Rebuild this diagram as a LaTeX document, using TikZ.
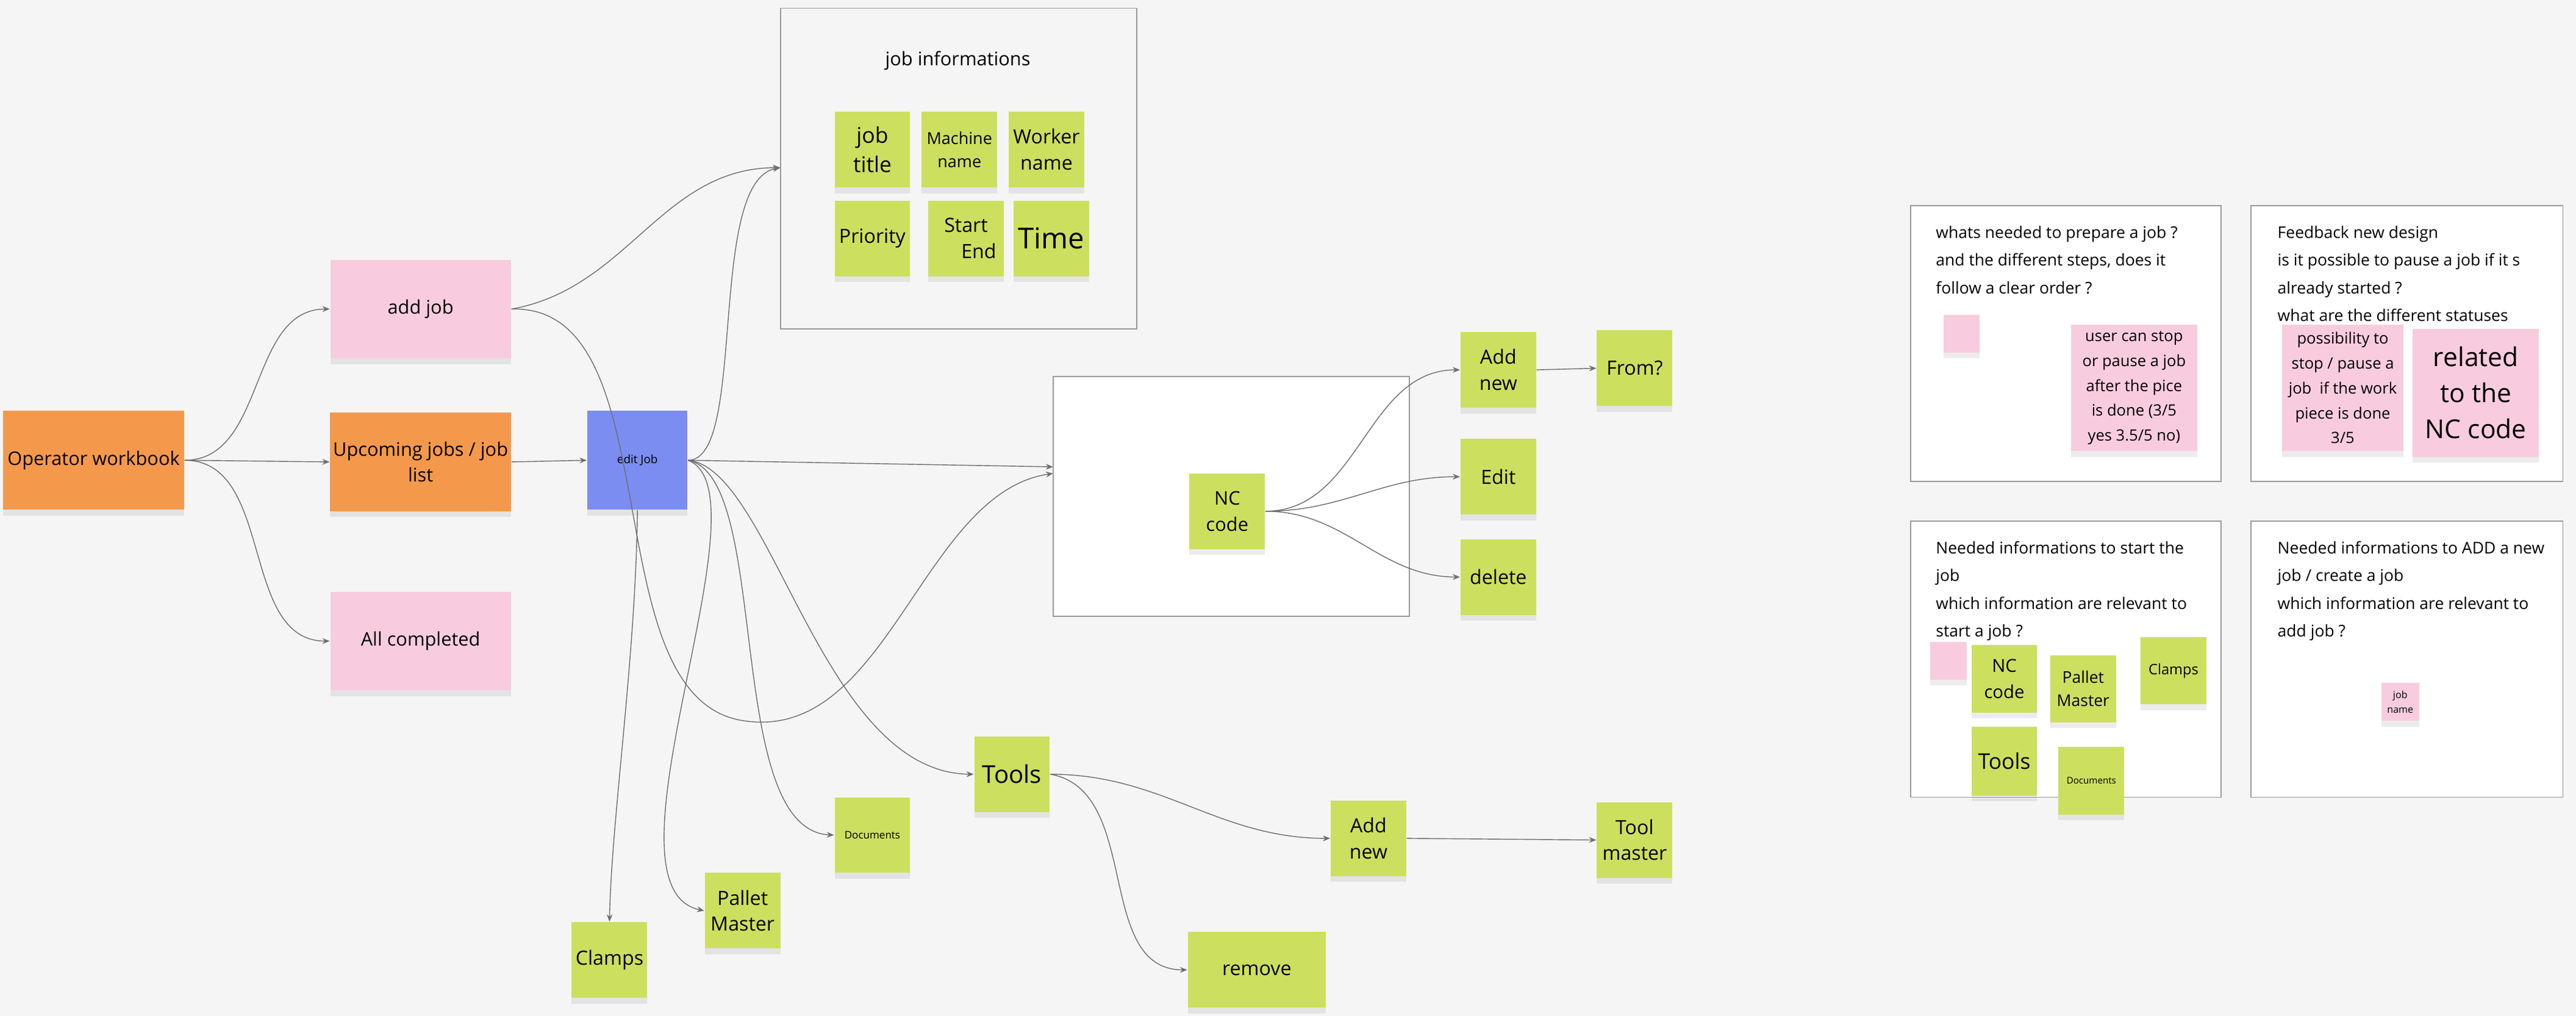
\documentclass[tikz,border=0pt]{standalone}
\usepackage{fontspec}
\setmainfont{Open Sans}
\usetikzlibrary{arrows.meta,shadows}
\definecolor{bggray}{HTML}{F5F5F5}
\definecolor{orangenote}{HTML}{F4994B}
\definecolor{pinknote}{HTML}{F8CCDE}
\definecolor{greennote}{HTML}{CDDF5E}
\definecolor{bluenote}{HTML}{7B8DF0}
\definecolor{linegray}{HTML}{6E6E6E}
\tikzset{
  note/.style={inner sep=1pt, align=center, text=black,
    drop shadow={opacity=0.15, shadow xshift=0pt, shadow yshift=-2pt}},
  bignote/.style={note, minimum width=2.2cm, minimum height=1.2cm, font=\fontsize{6.5}{9}\selectfont},
  green/.style={note, fill=greennote, minimum width=0.92cm, minimum height=0.92cm},
  frame/.style={draw=gray!80, line width=0.4pt},
  panel/.style={frame, fill=white},
  link/.style={draw=linegray, line width=0.3pt, -{Stealth[length=2.5pt,width=2pt]}},
  ptext/.style={anchor=north west, align=left, inner sep=0pt, font=\fontsize{5.6}{9.6}\selectfont}
}
\begin{document}
\begin{tikzpicture}[x=0.02cm,y=-0.02cm]
\fill[bggray] (0,0) rectangle (1568,618);
\useasboundingbox (0,0) rectangle (1568,618);
% frames
\draw[frame] (475,5) rectangle (692,200);
\node[font=\fontsize{6.5}{8}\selectfont] (infotitle) at (583,37) {job informations};
\coordinate (infoin) at (475,102);
\draw[panel] (641,229) rectangle (858,375);
\coordinate (ncin) at (641,288);
\coordinate (ncin2) at (641,284);
% main flow
\node[bignote, fill=orangenote] (workbook) at (57,280) {Operator workbook};
\node[bignote, fill=pinknote] (addjob) at (256,188) {add job};
\node[bignote, fill=orangenote] (upcoming) at (256,281) {Upcoming jobs / job\\list};
\node[bignote, fill=pinknote] (completed) at (256,390) {All completed};
\node[note, fill=bluenote, minimum width=1.22cm, minimum height=1.2cm, font=\fontsize{4}{5}\selectfont] (editjob) at (388,280) {edit Job};
% job informations
\node[green, font=\fontsize{7.5}{10}\selectfont] (jobtitle) at (531,91) {job\\title};
\node[green, font=\fontsize{5.7}{8}\selectfont] (machine) at (584,91) {Machine\\name};
\node[green, font=\fontsize{6.8}{9}\selectfont] (worker) at (637,91) {Worker\\name};
\node[green, font=\fontsize{6.8}{9}\selectfont] (priority) at (531,145) {Priority};
\node[green, font=\fontsize{6.8}{9}\selectfont] (startend) at (588,145) {Start\\\hspace*{1.3em}End};
\node[green, font=\fontsize{10}{12}\selectfont] (time) at (640,145) {Time};
% NC code
\node[green, font=\fontsize{6.5}{9}\selectfont] (nccode) at (747,311) {NC\\code};
\node[green, font=\fontsize{6.8}{9}\selectfont] (addnc) at (912,225) {Add\\new};
\node[green, font=\fontsize{6.8}{9}\selectfont] (from) at (995,224) {From?};
\node[green, font=\fontsize{6.8}{9}\selectfont] (edit) at (912,290) {Edit};
\node[green, font=\fontsize{6.8}{9}\selectfont] (delete) at (912,351) {delete};
% tools
\node[green, font=\fontsize{8.5}{10}\selectfont] (tools) at (616,471) {Tools};
\node[green, font=\fontsize{6.8}{9}\selectfont] (addtool) at (833,510) {Add\\new};
\node[green, font=\fontsize{6.8}{9}\selectfont] (toolmaster) at (995,511) {Tool\\master};
\node[green, minimum width=1.68cm, font=\fontsize{6.8}{9}\selectfont] (remove) at (765,590) {remove};
\node[green, font=\fontsize{3.6}{5}\selectfont] (documents) at (531,508) {Documents};
\node[green, font=\fontsize{6.8}{9}\selectfont] (pallet) at (452,554) {Pallet\\Master};
\node[green, font=\fontsize{6.8}{9}\selectfont] (clamps) at (371,584) {Clamps};
% connectors
\draw[link] (workbook.east) to[out=0,in=180] (addjob.west);
\draw[link] (workbook.east) -- (upcoming.west);
\draw[link] (workbook.east) to[out=0,in=180] (completed.west);
\draw[link] (upcoming.east) -- (editjob.west);
\draw[link] (addjob.east) to[out=10,in=180] (infoin);
\draw[link] (addjob.east) .. controls (410,185) and (360,420) .. (450,438) .. controls (540,455) and (560,300) .. (ncin);
\draw[link] (editjob.east) .. controls (455,280) and (430,110) .. (infoin);
\draw[link] (editjob.east) -- (ncin2);
\draw[link] (editjob.east) .. controls (470,285) and (500,470) .. (tools.west);
\draw[link] (editjob.east) .. controls (470,290) and (440,505) .. (documents.west);
\draw[link] (editjob.east) .. controls (470,300) and (360,540) .. (pallet.west);
\draw[link] (editjob.south) .. controls (387,400) and (372,500) .. (clamps.north);
\draw[link] (nccode.east) to[out=0,in=180] (addnc.west);
\draw[link] (nccode.east) to[out=0,in=180] (edit.west);
\draw[link] (nccode.east) to[out=0,in=180] (delete.west);
\draw[link] (addnc.east) -- (from.west);
\draw[link] (tools.east) to[out=0,in=180] (addtool.west);
\draw[link] (tools.east) to[out=-10,in=180] (remove.west);
\draw[link] (addtool.east) -- (toolmaster.west);
% panels
\draw[panel] (1163,125) rectangle (1352,293);
\draw[panel] (1370,125) rectangle (1560,293);
\draw[panel] (1163,317) rectangle (1352,485);
\draw[panel] (1370,317) rectangle (1560,485);
\node[ptext] (prepq) at (1178,137) {whats needed to prepare a job ?\\and the different steps, does it\\follow a clear order ?};
\node[note, fill=pinknote, minimum width=0.44cm, minimum height=0.46cm] (prepblank) at (1194,203) {};
\node[note, fill=pinknote, minimum width=1.54cm, minimum height=1.54cm, font=\fontsize{5.4}{8.6}\selectfont] (userstop) at (1299,236) {user can stop\\or pause a job\\after the pice\\is done (3/5\\yes 3.5/5 no)};
\node[ptext] (feedq) at (1386,137) {Feedback new design\\is it possible to pause a job if it s\\already started ?\\what are the different statuses};
\node[note, fill=pinknote, minimum width=1.48cm, minimum height=1.54cm, font=\fontsize{5.4}{8.6}\selectfont] (possib) at (1426,236) {possibility to\\stop / pause a\\job\ \ if the work\\piece is done\\3/5};
\node[note, fill=pinknote, minimum width=1.54cm, minimum height=1.56cm, font=\fontsize{9}{12.5}\selectfont] (related) at (1507,239) {related\\to the\\NC code};
\node[ptext] (startq) at (1178,329) {Needed informations to start the\\job\\which information are relevant to\\start a job ?};
\node[note, fill=pinknote, minimum width=0.44cm, minimum height=0.46cm] (startblank) at (1186,402) {};
\node[green, minimum width=0.8cm, minimum height=0.82cm, font=\fontsize{6.2}{9}\selectfont] (ncsmall) at (1220,413) {NC\\code};
\node[green, minimum width=0.8cm, minimum height=0.82cm, font=\fontsize{5.6}{8}\selectfont] (palletsmall) at (1268,419) {Pallet\\Master};
\node[green, minimum width=0.8cm, minimum height=0.82cm, font=\fontsize{5}{7}\selectfont] (clampssmall) at (1323,408) {Clamps};
\node[green, minimum width=0.8cm, minimum height=0.84cm, font=\fontsize{7.5}{9}\selectfont] (toolssmall) at (1220,463) {Tools};
\node[green, minimum width=0.8cm, minimum height=0.82cm, font=\fontsize{3.2}{4}\selectfont] (docssmall) at (1273,475) {Documents};
\node[ptext] (addq) at (1386,329) {Needed informations to ADD a new\\job / create a job\\which information are relevant to\\add job ?};
\node[note, fill=pinknote, minimum width=0.46cm, minimum height=0.46cm, font=\fontsize{3.4}{5}\selectfont] (jobname) at (1461,427) {job\\name};
\end{tikzpicture}
\end{document}
